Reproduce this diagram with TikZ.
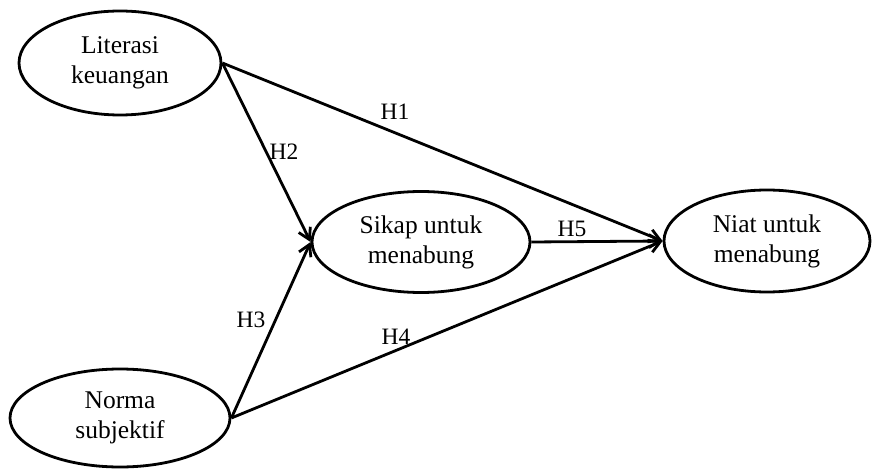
\documentclass[tikz,border=0pt]{standalone}
\usepackage{fontspec}
\setmainfont{Liberation Serif}
\usetikzlibrary{shapes.geometric,arrows.meta}
\begin{document}
\begin{tikzpicture}[x=1pt,y=-1pt,
  construct/.style={draw, ellipse, line width=2.8pt, inner sep=0pt, align=center,
    font=\fontsize{25.5}{30}\selectfont},
  conn/.style={line width=2.8pt, -{Straight Barb[length=11pt,width=13pt,line width=2.8pt]}},
  lbl/.style={font=\fontsize{23.5}{26}\selectfont, inner sep=0pt}]
\useasboundingbox (0,0) rectangle (872,470);
\node[construct, minimum width=202pt, minimum height=104pt] (lit) at (120,63) {Literasi\\keuangan};
\node[construct, minimum width=220pt, minimum height=98pt] (norma) at (120,418) {Norma\\subjektif};
\node[construct, minimum width=218pt, minimum height=101pt] (sikap) at (421,242) {Sikap untuk\\menabung};
\node[construct, minimum width=206pt, minimum height=102pt] (niat) at (767,241) {Niat untuk\\menabung};
\draw[conn] (lit.east) -- (niat.west);
\draw[conn] (lit.east) -- (sikap.west);
\draw[conn] (norma.east) -- (sikap.west);
\draw[conn] (norma.east) -- (niat.west);
\draw[conn] (sikap.east) -- (niat.west);
\node[lbl] (h1) at (395,112) {H1};
\node[lbl] (h2) at (284,152) {H2};
\node[lbl] (h3) at (251,320) {H3};
\node[lbl] (h4) at (396,337) {H4};
\node[lbl] (h5) at (572,229) {H5};
\end{tikzpicture}
\end{document}
